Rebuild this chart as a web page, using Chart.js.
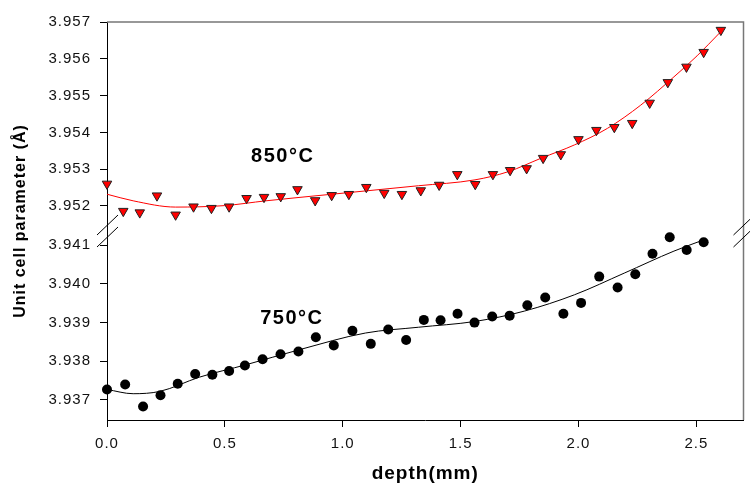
<!DOCTYPE html>
<html>
<head>
<meta charset="utf-8">
<script src="https://cdn.jsdelivr.net/npm/chart.js"></script>
<style>
  body { margin: 0; background: #fff; overflow: hidden; }
  canvas { display: block; }
</style>
</head>
<body>
<canvas id="myChart" width="750" height="485"></canvas>
<script>
// 850 °C series (triangles)
let depth850 = [0, 0.069, 0.139, 0.212, 0.291, 0.367, 0.443, 0.518, 0.592, 0.666, 0.737, 0.808,
    0.883, 0.953, 1.026, 1.100, 1.176, 1.251, 1.331, 1.409, 1.486, 1.562, 1.637, 1.710,
    1.780, 1.850, 1.925, 2.000, 2.076, 2.152, 2.228, 2.302, 2.379, 2.458, 2.531, 2.604]
let cell850 = [3.95260, 3.95186, 3.95182, 3.95228, 3.95176, 3.95198, 3.95194, 3.95198, 3.95221, 3.95224, 3.95226, 3.95245,
    3.95215, 3.95229, 3.95232, 3.95251, 3.95235, 3.95232, 3.95242, 3.95257, 3.95286, 3.95259, 3.95286, 3.95297,
    3.95302, 3.95330, 3.95340, 3.95381, 3.95406, 3.95414, 3.95425, 3.95480, 3.95536, 3.95578, 3.95618, 3.95678]

// 750 °C series (circles)
let depth750 = [0, 0.077, 0.153, 0.227, 0.300, 0.374, 0.447, 0.518, 0.585, 0.660, 0.736, 0.812,
    0.886, 0.962, 1.041, 1.119, 1.193, 1.269, 1.344, 1.415, 1.487, 1.559, 1.634, 1.708,
    1.783, 1.859, 1.936, 2.011, 2.088, 2.166, 2.241, 2.314, 2.387, 2.459, 2.531]
let cell750 = [3.93727, 3.93740, 3.93683, 3.93712, 3.93742, 3.93767, 3.93765, 3.93775, 3.93789, 3.93805, 3.93818, 3.93825,
    3.93862, 3.93841, 3.93879, 3.93845, 3.93882, 3.93855, 3.93907, 3.93906, 3.93923, 3.93900, 3.93916, 3.93918,
    3.93945, 3.93965, 3.93923, 3.93951, 3.94019, 3.93991, 3.94025, 3.94078, 3.94121, 3.94088, 3.94108]

// fitted curves
let fitDepth850 = [0, 0.111, 0.291, 0.498, 0.674, 0.955, 1.321, 1.561, 1.701, 1.842, 1.983, 2.123, 2.264, 2.405, 2.503, 2.601]
let fit850 = [3.95232, 3.95214, 3.95197, 3.95201, 3.95214, 3.95232, 3.95255, 3.95271, 3.95293, 3.95330, 3.95366, 3.95411, 3.95474, 3.95551, 3.95608, 3.95672]
let fitDepth750 = [0, 0.111, 0.224, 0.393, 0.590, 0.817, 1.096, 1.321, 1.561, 1.772, 1.983, 2.194, 2.405, 2.531]
let fit750 = [3.93727, 3.93716, 3.93722, 3.93759, 3.93791, 3.93830, 3.93873, 3.93888, 3.93903, 3.93930, 3.93972, 3.94028, 3.94085, 3.94114]

// axes
let xTicks = [0, 0.5, 1.0, 1.5, 2.0, 2.5]
let topTicks = [3.952, 3.953, 3.954, 3.955, 3.956, 3.957]
let botTicks = [3.937, 3.938, 3.939, 3.940, 3.941]

// curve labels: text, depth, value (baseline)
let labelText = ['850°C', '750°C']
let labelDepth = [0.611, 0.650]
let labelValue = [3.95319, 3.93896]
let labelAxis = ['yTop', 'yBot']

function pares(xs, ys) {
    let out = []
    for (let i = 0; i < xs.length; i++) {
        out.push({ x: xs[i], y: ys[i] })
    }
    return out
}

const fonte = 'Liberation Sans, Arial, sans-serif'

const tickFont = { family: fonte, size: 15 }
const tickGrid = { display: true, drawOnChartArea: false, drawTicks: true, tickLength: 7, color: '#000', lineWidth: 1 }

// moldura cinza, marcas de quebra e rótulos
const extras = {
    id: 'extras',
    beforeLayout(chart) { chart.ctx.letterSpacing = '1px' },
    beforeDraw(chart) { chart.ctx.letterSpacing = '1px' },
    afterDraw(chart) {
        const ctx = chart.ctx
        const a = chart.chartArea
        const b = chart.scales.yTop.bottom
        ctx.save()
        ctx.strokeStyle = '#777'
        ctx.lineWidth = 1.5
        ctx.beginPath()
        ctx.moveTo(a.left, a.top)
        ctx.lineTo(a.right, a.top)
        ctx.lineTo(a.right, a.bottom)
        ctx.stroke()

        ctx.strokeStyle = '#000'
        ctx.lineWidth = 1
        for (const x0 of [a.left, a.right]) {
            for (const d of [-6, 6]) {
                ctx.beginPath()
                ctx.moveTo(x0 - 10, b + d + 10)
                ctx.lineTo(x0 + 11, b + d - 10)
                ctx.stroke()
            }
        }

        ctx.font = 'bold 20px ' + fonte
        ctx.letterSpacing = '1.5px'
        ctx.fillStyle = '#000'
        ctx.textAlign = 'left'
        ctx.textBaseline = 'alphabetic'
        for (let i = 0; i < labelText.length; i++) {
            let px = chart.scales.x.getPixelForValue(labelDepth[i])
            let py = chart.scales[labelAxis[i]].getPixelForValue(labelValue[i])
            ctx.fillText(labelText[i], px, py)
        }
        ctx.restore()
    }
}

const data = {
    datasets: [
        {
            label: '850°C',
            data: pares(depth850, cell850),
            yAxisID: 'yTop',
            showLine: false,
            pointStyle: 'triangle',
            pointRotation: 180,
            pointRadius: 5.5,
            backgroundColor: '#ff0000',
            borderColor: '#222',
            borderWidth: 1,
            order: 0,
            clip: false
        },
        {
            label: '750°C',
            data: pares(depth750, cell750),
            yAxisID: 'yBot',
            showLine: false,
            pointStyle: 'circle',
            pointRadius: 5,
            backgroundColor: '#000',
            borderColor: '#000',
            borderWidth: 0,
            order: 0,
            clip: false
        },
        {
            label: 'fit 850',
            data: pares(fitDepth850, fit850),
            yAxisID: 'yTop',
            showLine: true,
            pointRadius: 0,
            borderColor: '#ff0000',
            borderWidth: 1,
            cubicInterpolationMode: 'monotone',
            order: 1,
            clip: false
        },
        {
            label: 'fit 750',
            data: pares(fitDepth750, fit750),
            yAxisID: 'yBot',
            showLine: true,
            pointRadius: 0,
            borderColor: '#000',
            borderWidth: 1,
            cubicInterpolationMode: 'monotone',
            order: 1,
            clip: false
        }
    ]
}

const config = {
    type: 'scatter',
    data: data,
    plugins: [extras],
    options: {
        responsive: false,
        animation: false,
        layout: { padding: { left: 0, right: 1, top: 22, bottom: 0 } },
        plugins: { legend: { display: false }, tooltip: { enabled: false } },
        scales: {
            x: {
                type: 'linear',
                position: 'bottom',
                min: 0,
                max: 2.7,
                afterBuildTicks: s => { s.ticks = xTicks.map(v => ({ value: v })) },
                afterFit: s => { s.height = 65; s.paddingRight = 0; s.paddingLeft = 0 },
                grid: tickGrid,
                border: { display: true, color: '#000', width: 1 },
                ticks: { padding: 8, color: '#111', font: tickFont, maxRotation: 0, callback: v => v.toFixed(1) },
                title: { display: true, text: 'depth(mm)', color: '#000', font: { family: fonte, size: 19, weight: 'bold' }, padding: { top: 0, bottom: 0 } }
            },
            yBot: {
                type: 'linear',
                position: 'left',
                stack: 'y',
                stackWeight: 189,
                weight: 0,
                min: 3.93648,
                max: 3.94137,
                afterBuildTicks: s => { s.ticks = botTicks.map(v => ({ value: v })) },
                afterFit: s => { s.width = 58 },
                grid: tickGrid,
                border: { display: true, color: '#000', width: 1 },
                ticks: { padding: 9, color: '#111', font: tickFont, callback: v => v.toFixed(3) }
            },
            yTop: {
                type: 'linear',
                position: 'left',
                stack: 'y',
                stackWeight: 209,
                weight: 1,
                min: 3.95132,
                max: 3.957,
                afterBuildTicks: s => { s.ticks = topTicks.map(v => ({ value: v })) },
                afterFit: s => { s.width = 58 },
                grid: tickGrid,
                border: { display: true, color: '#000', width: 1 },
                ticks: { padding: 9, color: '#111', font: tickFont, callback: v => v.toFixed(3) }
            },
            yTitle: {
                type: 'linear',
                position: 'left',
                weight: 10,
                afterFit: s => { s.width = 49 },
                grid: { display: false },
                border: { display: false },
                ticks: { display: false },
                title: { display: true, text: 'Unit cell parameter (Å)', color: '#000', font: { family: fonte, size: 16, weight: 'bold' }, padding: { top: 11, bottom: 0 } }
            }
        }
    }
}

const myChart = new Chart(document.getElementById('myChart'), config)
</script>
</body>
</html>
